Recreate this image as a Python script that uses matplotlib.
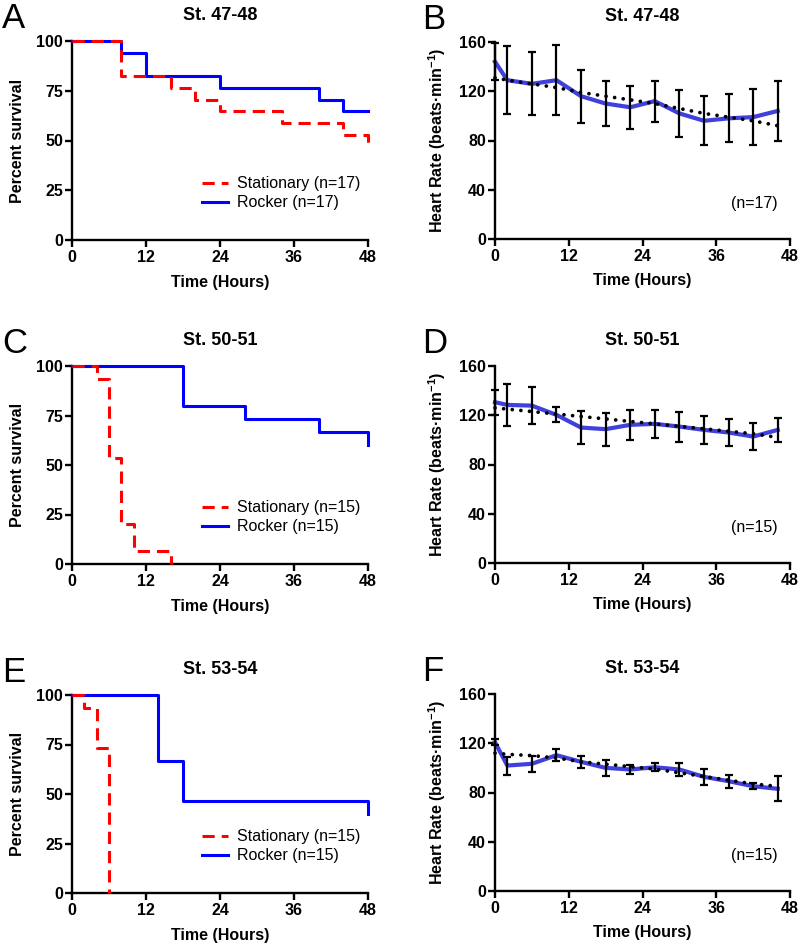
import numpy as np
import matplotlib
matplotlib.use("Agg")
import matplotlib.pyplot as plt

plt.rcParams['font.family'] = ['Liberation Sans', 'DejaVu Sans']
plt.rcParams['mathtext.fontset'] = 'custom'
plt.rcParams['mathtext.rm'] = 'Liberation Sans:bold'
plt.rcParams['mathtext.default'] = 'rm'

# --- SURVIVAL DATA (step times in hours, percent survival) ---
titles = ["St. 47-48", "St. 50-51", "St. 53-54"]
n_labels = ["(n=17)", "(n=15)", "(n=15)"]

stat_a_t = [0, 8, 16, 20, 24, 34, 44, 48]
stat_a_s = [100, 82.4, 76.5, 70.6, 64.7, 58.8, 52.9, 47.1]
rock_a_t = [0, 8, 12, 24, 40, 44, 48]
rock_a_s = [100, 94.1, 82.4, 76.5, 70.6, 64.7, 64.7]

stat_c_t = [0, 4, 6, 8, 10, 16]
stat_c_s = [100, 93.3, 53.3, 20.0, 6.7, 0]
rock_c_t = [0, 18, 28, 40, 48]
rock_c_s = [100, 80.0, 73.3, 66.7, 60.0]

stat_e_t = [0, 2, 4, 6]
stat_e_s = [100, 93.3, 73.3, 0]
rock_e_t = [0, 14, 18, 48]
rock_e_s = [100, 66.7, 46.7, 40.0]

# --- HEART RATE DATA ---
hr_time = [0, 2, 6, 10, 14, 18, 22, 26, 30, 34, 38, 42, 46]

hr_b_mean = [144, 129, 126, 129, 116, 110, 107, 112, 102, 96, 98, 99, 104]
hr_b_err = [15, 27.7, 25.5, 28.3, 21.5, 18.3, 17.4, 16.7, 19, 20, 19.6, 22.5, 24.7]
hr_b_trend = [131, 129, 126, 123, 119, 116, 113, 110, 106, 102, 99, 96, 92]

hr_d_mean = [130.6, 128.4, 127.8, 120.3, 110, 108.7, 112.2, 113, 110.8, 108.1, 106, 102.7, 108.1]
hr_d_err = [10, 16.8, 15, 6, 13.7, 13.5, 12.4, 11.3, 12.2, 11.2, 10.7, 11, 10]
hr_d_trend = [126, 125, 123, 121, 119, 117, 115, 113, 111, 109, 107, 105, 102]

hr_f_mean = [120.8, 101.9, 103.3, 110.3, 104.9, 100, 98.7, 100.5, 98.7, 92.7, 89.2, 85.1, 83]
hr_f_err = [2.5, 7.3, 6.3, 4.7, 4.7, 6.7, 4, 3.3, 5, 6.5, 5.4, 2.6, 10.3]
hr_f_trend = [112, 111, 110, 108, 105, 103, 101, 99, 96, 93, 90, 87, 85]

W, H = 800, 948
fig = plt.figure(figsize=(W / 100, H / 100), dpi=100)


def px_axes(left, top, right, bottom):
    return fig.add_axes([left / W, 1 - bottom / H, (right - left) / W, (bottom - top) / H])


def style_axes(ax):
    for s in ['top', 'right']:
        ax.spines[s].set_visible(False)
    for s in ['left', 'bottom']:
        ax.spines[s].set_linewidth(1.7)
        ax.spines[s].set_zorder(2.2)
    ax.tick_params(direction='out', length=5, width=1.7, labelsize=11.5)
    ax.tick_params(axis='y', pad=1.5)
    ax.tick_params(axis='x', pad=2)
    for lab in ax.get_xticklabels() + ax.get_yticklabels():
        lab.set_fontweight('bold')
    ax.set_xlim(0, 48)
    ax.set_xticks([0, 12, 24, 36, 48])
    ax.set_xlabel("Time (Hours)", fontsize=11.5, fontweight='bold')
    ax.xaxis.set_label_coords(0.5, -0.175)


def survival_panel(ax, title, st_t, st_s, rk_t, rk_s, n):
    ax.step(rk_t, rk_s, where='post', color='#0000ff', lw=2.2, clip_on=False,
            label=f"Rocker {n}", zorder=3)
    ax.step(st_t, st_s, where='post', color='#ff0000', lw=2.2, clip_on=False,
            dashes=(4, 2.3), label=f"Stationary {n}", zorder=4)
    ax.set_ylim(0, 100)
    ax.set_yticks([0, 25, 50, 75, 100])
    style_axes(ax)
    ax.set_ylabel("Percent survival", fontsize=11.5, fontweight='bold')
    ax.yaxis.set_label_coords(-0.16, 0.5)
    ax.set_title(title, fontsize=13, fontweight='bold', pad=15)
    handles, labels = ax.get_legend_handles_labels()
    ax.legend(handles[::-1], labels[::-1], loc='center left', bbox_to_anchor=(0.44, 0.235),
              frameon=False, fontsize=11.5, borderpad=0, borderaxespad=0,
              handlelength=1.6, handletextpad=0.6, labelspacing=0.25)


def hr_panel(ax, title, mean, err, trend, n):
    ax.plot(hr_time, mean, color='#4040dd', lw=3, zorder=2, clip_on=False,
            solid_joinstyle='round')
    ax.plot(hr_time, trend, color='black', lw=2.7, dashes=(0.01, 2.3),
            dash_capstyle='round', zorder=2.5, clip_on=False)
    ax.errorbar(hr_time, mean, yerr=err, fmt='none', ecolor='black', elinewidth=1.6,
                capsize=3, capthick=1.6, zorder=3, clip_on=False)
    ax.set_ylim(0, 160)
    ax.set_yticks([0, 40, 80, 120, 160])
    style_axes(ax)
    ax.set_ylabel(r"Heart Rate (beats·min$^{-1}$)", fontsize=11.5, fontweight='bold')
    ax.yaxis.set_label_coords(-0.16, 0.5)
    ax.set_title(title, fontsize=13, fontweight='bold', pad=15)
    ax.text(46, 29, n, ha='right', va='center', fontsize=11.5)


ax_a = px_axes(72, 41, 368, 240)
ax_b = px_axes(495, 42, 790, 239)
ax_c = px_axes(72, 366, 368, 564)
ax_d = px_axes(495, 366, 790, 563)
ax_e = px_axes(72, 695, 368, 893)
ax_f = px_axes(495, 694, 790, 891)

survival_panel(ax_a, titles[0], stat_a_t, stat_a_s, rock_a_t, rock_a_s, n_labels[0])
survival_panel(ax_c, titles[1], stat_c_t, stat_c_s, rock_c_t, rock_c_s, n_labels[1])
survival_panel(ax_e, titles[2], stat_e_t, stat_e_s, rock_e_t, rock_e_s, n_labels[2])

hr_panel(ax_b, titles[0], hr_b_mean, hr_b_err, hr_b_trend, n_labels[0])
hr_panel(ax_d, titles[1], hr_d_mean, hr_d_err, hr_d_trend, n_labels[1])
hr_panel(ax_f, titles[2], hr_f_mean, hr_f_err, hr_f_trend, n_labels[2])

# panel letters
for letter, x, top in [("A", 2, 41), ("B", 422, 42), ("C", 2, 366),
                       ("D", 422, 366), ("E", 2, 695), ("F", 422, 694)]:
    fig.text(x / W, 1 - (top - 13) / H, letter, fontsize=25, ha='left', va='baseline')

fig.savefig("out.png", dpi=100)
